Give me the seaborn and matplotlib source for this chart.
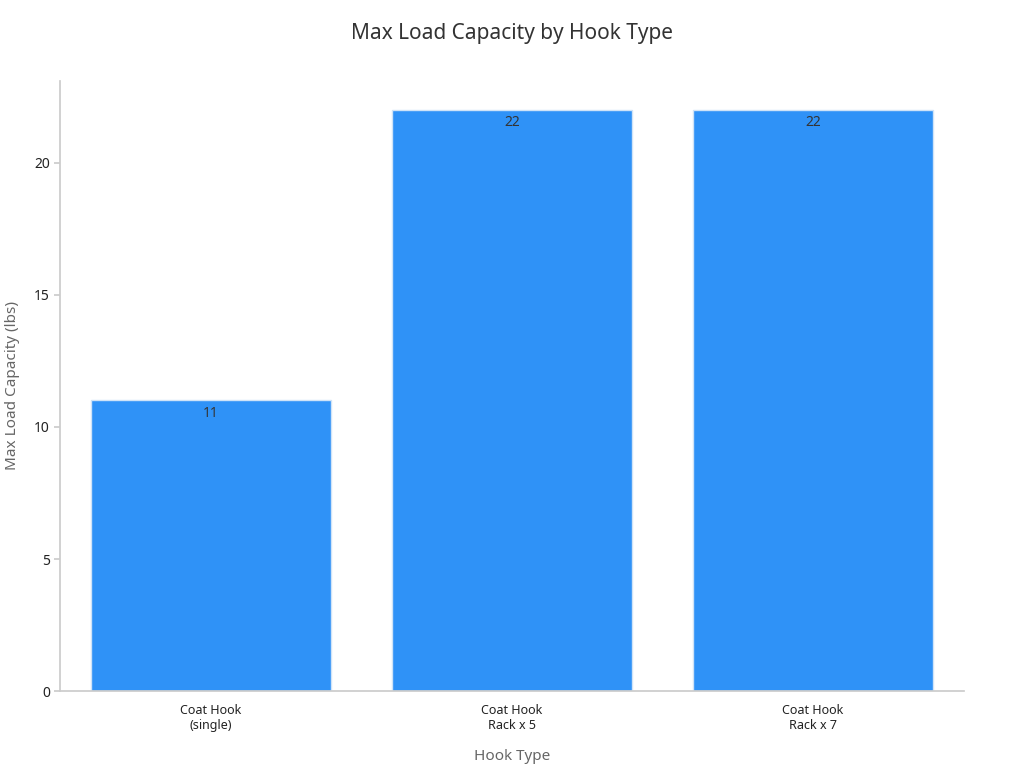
import matplotlib
matplotlib.use("Agg")
import matplotlib.pyplot as plt
import seaborn as sns
import pandas as pd

categories = ["Coat Hook\n(single)", "Coat Hook\nRack x 5", "Coat Hook\nRack x 7"]
values = [11, 22, 22]

sns.set_theme(style="white")
plt.rcParams['font.family'] = ['Noto Sans', 'DejaVu Sans']

fig, ax = plt.subplots(figsize=(10.24, 7.68), dpi=100)
fig.subplots_adjust(left=0.059, right=0.941, top=0.895, bottom=0.1)
df = pd.DataFrame({"cat": categories, "val": values})
sns.barplot(data=df, x="cat", y="val", color="#2f92f7", saturation=1, width=0.8,
            edgecolor="#cfe3f7", linewidth=1, ax=ax)
for i, v in enumerate(values):
    ax.text(i, v - 0.2, f"{v}", ha="center", va="top", fontsize=10, color="#333333")
ax.set_ylim(0, 23.1)
ax.set_xlim(-0.5, 2.5)
ax.set_yticks([0, 5, 10, 15, 20])
ax.tick_params(axis='y', left=True, length=4, color="#cccccc", labelsize=10, labelcolor="#222222")
ax.tick_params(axis='x', labelsize=9, labelcolor="#222222")
for s in ["top", "right"]:
    ax.spines[s].set_visible(False)
for s in ["left", "bottom"]:
    ax.spines[s].set_color("#cccccc")
ax.set_xlabel("Hook Type", fontsize=11, color="#666666", labelpad=12)
ax.set_ylabel("Max Load Capacity (lbs)", fontsize=11, color="#666666", labelpad=10)
fig.suptitle("Max Load Capacity by Hook Type", fontsize=15, color="#333333", y=0.97)
fig.savefig("out.png", dpi=100)
